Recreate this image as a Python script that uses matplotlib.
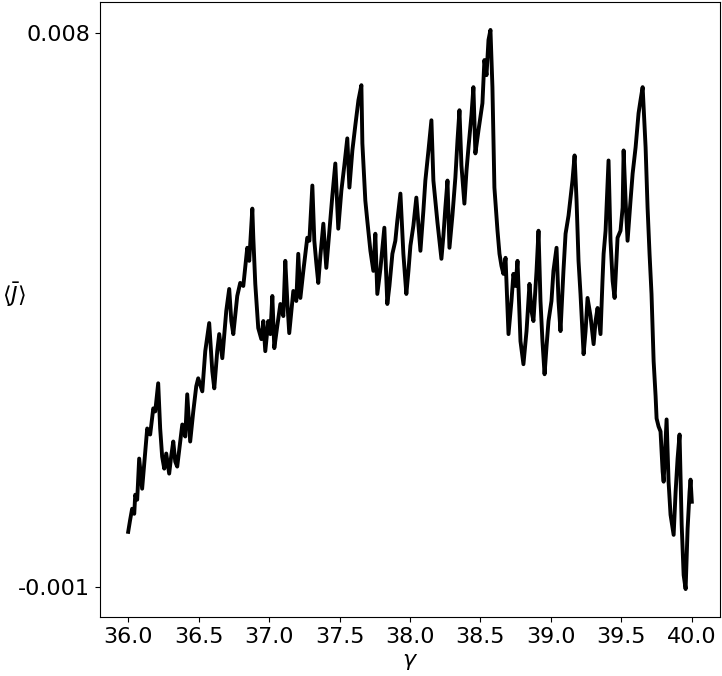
import matplotlib
matplotlib.use("Agg")
import matplotlib.pyplot as plt
import numpy as np

# gamma values
gamma = [
    36.000, 36.014, 36.028, 36.043, 36.050, 36.064, 36.078, 36.099, 36.114, 36.135,
    36.156, 36.178, 36.192, 36.213, 36.227, 36.241, 36.256, 36.270, 36.291, 36.305,
    36.320, 36.334, 36.348, 36.369, 36.384, 36.405, 36.419, 36.440, 36.462, 36.483,
    36.497, 36.526, 36.547, 36.575, 36.597, 36.611, 36.632, 36.646, 36.668, 36.696,
    36.717, 36.732, 36.746, 36.774, 36.795, 36.817, 36.845, 36.859, 36.881, 36.888,
    36.902, 36.923, 36.945, 36.959, 36.973, 36.994, 37.009, 37.023, 37.037, 37.058,
    37.080, 37.101, 37.115, 37.129, 37.143, 37.158, 37.172, 37.193, 37.207, 37.222,
    37.243, 37.271, 37.286, 37.307, 37.321, 37.335, 37.349, 37.364, 37.385, 37.406,
    37.428, 37.449, 37.470, 37.491, 37.513, 37.534, 37.555, 37.570, 37.591, 37.612,
    37.634, 37.655, 37.662, 37.683, 37.697, 37.719, 37.740, 37.754, 37.768, 37.790,
    37.818, 37.839, 37.854, 37.875, 37.896, 37.910, 37.932, 37.953, 37.974, 37.989,
    38.003, 38.024, 38.045, 38.074, 38.095, 38.109, 38.131, 38.152, 38.166, 38.195,
    38.223, 38.237, 38.251, 38.266, 38.280, 38.301, 38.322, 38.337, 38.351, 38.365,
    38.386, 38.401, 38.415, 38.436, 38.450, 38.464, 38.486, 38.514, 38.528, 38.543,
    38.557, 38.571, 38.585, 38.592, 38.599, 38.621, 38.635, 38.649, 38.663, 38.678,
    38.699, 38.720, 38.734, 38.749, 38.763, 38.784, 38.805, 38.827, 38.848, 38.862,
    38.876, 38.898, 38.912, 38.926, 38.940, 38.955, 38.969, 38.983, 39.004, 39.018,
    39.040, 39.054, 39.068, 39.089, 39.104, 39.125, 39.139, 39.153, 39.168, 39.182,
    39.196, 39.210, 39.232, 39.246, 39.260, 39.281, 39.303, 39.317, 39.331, 39.352,
    39.366, 39.374, 39.388, 39.409, 39.423, 39.438, 39.452, 39.473, 39.494, 39.509,
    39.516, 39.530, 39.544, 39.565, 39.580, 39.601, 39.622, 39.636, 39.651, 39.672,
    39.686, 39.700, 39.714, 39.729, 39.743, 39.750, 39.764, 39.778, 39.793, 39.800,
    39.821, 39.835, 39.849, 39.871, 39.885, 39.899, 39.913, 39.928, 39.942, 39.956,
    39.970, 39.984, 39.991, 40.000,
]

# <J> in units of 1e-3
current_milli = [
    -0.103, 0.093, 0.272, 0.190, 0.500, 0.419, 1.087, 0.598, 1.006, 1.576,
    1.478, 1.902, 1.853, 2.310, 1.576, 1.120, 0.924, 1.169, 0.843, 1.120,
    1.364, 1.038, 0.957, 1.364, 1.641, 1.446, 2.131, 1.364, 1.853, 2.261,
    2.391, 2.179, 2.832, 3.288, 2.506, 2.228, 2.832, 3.109, 2.718, 3.484,
    3.842, 3.321, 3.109, 3.728, 3.940, 3.891, 4.511, 4.299, 5.147, 4.674,
    3.924, 3.207, 3.027, 3.321, 2.832, 3.321, 3.109, 3.728, 2.881, 3.239,
    3.598, 3.402, 4.299, 3.647, 3.125, 3.484, 3.810, 3.647, 4.413, 3.696,
    4.136, 4.674, 4.625, 5.522, 4.625, 4.266, 3.940, 4.381, 4.902, 4.185,
    4.788, 5.359, 5.880, 4.821, 5.440, 5.848, 6.288, 5.489, 6.092, 6.500,
    6.908, 7.152, 6.207, 5.277, 4.951, 4.462, 4.136, 4.739, 3.761, 4.169,
    4.837, 3.598, 3.891, 4.413, 4.625, 4.951, 5.391, 4.413, 3.761, 4.136,
    4.544, 4.870, 5.326, 4.462, 5.114, 5.603, 6.092, 6.582, 5.603, 4.919,
    4.332, 4.707, 5.163, 5.603, 4.511, 5.033, 5.652, 6.255, 6.745, 5.848,
    5.228, 5.766, 6.141, 6.663, 7.120, 6.044, 6.419, 6.859, 7.560, 7.315,
    7.886, 8.049, 7.120, 6.304, 5.489, 4.788, 4.413, 4.217, 4.087, 4.348,
    3.109, 3.647, 4.087, 3.891, 4.299, 2.995, 2.620, 3.158, 3.924, 3.484,
    3.321, 4.136, 4.788, 3.647, 2.995, 2.457, 2.913, 3.321, 3.647, 4.136,
    4.511, 3.647, 3.158, 4.136, 4.739, 5.033, 5.326, 5.603, 6.011, 5.277,
    4.299, 3.761, 2.783, 3.158, 3.696, 3.402, 2.946, 3.321, 3.533, 3.109,
    3.973, 4.413, 4.788, 5.929, 4.625, 3.973, 3.696, 4.674, 4.788, 5.163,
    6.092, 5.277, 4.625, 5.277, 5.717, 6.141, 6.696, 6.908, 7.120, 6.141,
    5.163, 4.413, 3.761, 2.669, 2.098, 1.739, 1.609, 1.527, 0.875, 0.712,
    1.723, 0.712, 0.174, -0.152, 0.549, 1.087, 1.478, 0.011, -0.804, -1.032,
    -0.054, 0.549, 0.745, 0.386,
]

yticks = [-0.001, 0.008]
ytick_labels = ["-0.001", "0.008"]


def main():
    x = np.array(gamma)
    y = np.array(current_milli) * 1e-3

    fig = plt.figure(figsize=(7.22, 6.76), dpi=100)
    ax = fig.add_axes([100 / 722, 59 / 676, 620 / 722, 615 / 676])

    # dense noisy curve, drawn solid and thick
    ax.plot(x, y, color="black", linestyle="-", linewidth=2.8)

    ax.set_yticks(yticks)
    ax.set_yticklabels(ytick_labels)
    ax.tick_params(labelsize=16)

    ax.set_xlabel(r"$\gamma$", fontsize=16)
    ax.set_ylabel(r"$\langle\bar{J}\rangle$", fontsize=16, rotation=0)
    ax.yaxis.set_label_coords(-0.138, 0.5)

    fig.savefig("out.png", dpi=100)


if __name__ == "__main__":
    main()
